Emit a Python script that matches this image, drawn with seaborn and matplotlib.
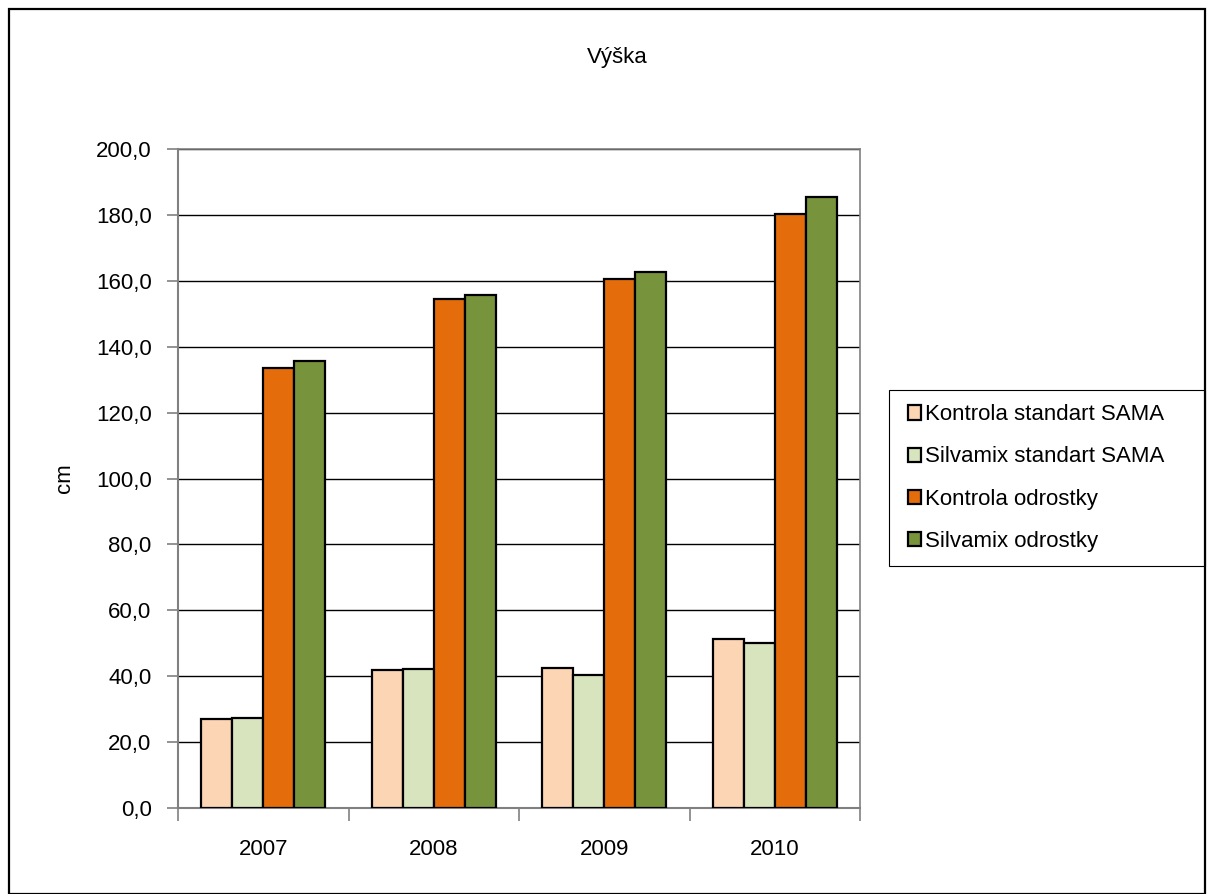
import matplotlib
matplotlib.use("Agg")
import matplotlib.pyplot as plt
from matplotlib.patches import Rectangle
from matplotlib.ticker import FuncFormatter, FixedLocator
import seaborn as sns
import pandas as pd

years = ["2007", "2008", "2009", "2010"]
series = ["Kontrola standart SAMA", "Silvamix standart SAMA",
          "Kontrola odrostky", "Silvamix odrostky"]
kontrola_sama = [27.0, 41.8, 42.5, 51.3]
silvamix_sama = [27.4, 42.3, 40.5, 50.1]
kontrola_odrostky = [133.5, 154.4, 160.5, 180.3]
silvamix_odrostky = [135.6, 155.6, 162.6, 185.5]
colors = ["#FCD5B5", "#D7E4BD", "#E46C0A", "#77933C"]

rows = []
for name, vals in zip(series, [kontrola_sama, silvamix_sama,
                               kontrola_odrostky, silvamix_odrostky]):
    for y, v in zip(years, vals):
        rows.append({"rok": y, "serie": name, "cm": v})
df = pd.DataFrame(rows)

sns.set_style("white")
plt.rcParams["font.family"] = ["Liberation Sans", "DejaVu Sans"]
plt.rcParams.update({"text.color": "black", "axes.labelcolor": "black",
                     "xtick.labelcolor": "black", "ytick.labelcolor": "black"})
FS = 16

fig = plt.figure(figsize=(12.07, 8.94), dpi=100)
W, H = 1207, 894
ax = fig.add_axes([178 / W, 1 - 808 / H, (860 - 178) / W, (808 - 149) / H])

sns.barplot(data=df, x="rok", y="cm", hue="serie", order=years,
            hue_order=series, palette=colors, width=0.73, gap=0,
            edgecolor="black", linewidth=1.6, saturation=1, ax=ax,
            zorder=3)

ax.set_ylim(0, 200)
ax.set_xlim(-0.5, 3.5)
ax.yaxis.set_major_locator(FixedLocator(range(0, 201, 20)))
ax.yaxis.set_major_formatter(FuncFormatter(lambda v, p: f"{v:.1f}".replace(".", ",")))
ax.grid(axis="y", color="black", linewidth=1.0, zorder=0)
ax.set_axisbelow(True)

for s in ["top", "right"]:
    ax.spines[s].set_color("#808080")
    ax.spines[s].set_linewidth(1.2)
for s in ["left", "bottom"]:
    ax.spines[s].set_color("#808080")
    ax.spines[s].set_linewidth(1.5)

# category-boundary ticks on x, year labels centred between them
ax.set_xticks([-0.5, 0.5, 1.5, 2.5, 3.5], minor=False)
ax.set_xticklabels([])
ax.tick_params(axis="x", which="major", length=9, width=1.2, color="#808080",
               direction="out", bottom=True)
ax.set_xticks(range(4), minor=True)
ax.set_xticklabels(years, minor=True, fontsize=FS)
ax.tick_params(axis="x", which="minor", length=0, pad=22, labelcolor="black")
ax.tick_params(axis="y", length=8, width=1.2, color="#808080",
               direction="out", left=True, labelsize=FS, pad=11,
               labelcolor="black")

ax.set_xlabel("")
ax.set_ylabel("cm", fontsize=FS, color="black")
ax.yaxis.set_label_coords((75 - 178) / (860 - 178), 0.5)

leg = ax.legend(loc="center left", bbox_to_anchor=(908 / W, 1 - 478 / H),
                bbox_transform=fig.transFigure, frameon=False,
                fontsize=FS, handlelength=0.6, handleheight=0.6,
                handletextpad=0.15, labelspacing=0.95, borderpad=0,
                borderaxespad=0)
for h in leg.legend_handles:
    h.set_linewidth(1.6)
    h.set_edgecolor("black")
for t in leg.get_texts():
    t.set_color("black")

# legend box
fig.patches.append(Rectangle((889 / W, 1 - 566 / H), (1205 - 889) / W,
                             (566 - 390) / H, transform=fig.transFigure,
                             fill=False, edgecolor="black", linewidth=0.8))

fig.text(617 / W, 1 - 57 / H, "Výška", ha="center", va="center", fontsize=FS)

# chart frame
fig.patches.append(Rectangle((9 / W, 0), (1205 - 9) / W, 1 - 9 / H,
                             transform=fig.transFigure, fill=False,
                             edgecolor="black", linewidth=1.6))

fig.savefig("out.png", dpi=100)
